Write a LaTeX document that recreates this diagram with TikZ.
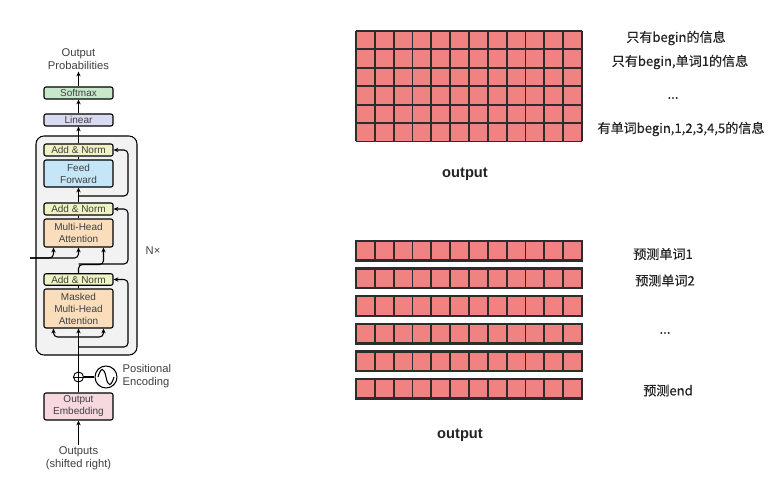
\documentclass[tikz,border=0pt]{standalone}
\usepackage{fontspec}
\setmainfont{Liberation Sans}
\newfontfamily\cjk[FakeBold=0.4]{Noto Sans CJK SC}
\usetikzlibrary{arrows.meta,calc}

\definecolor{cellred}{RGB}{240,130,130}
\definecolor{celldark}{RGB}{45,45,45}
\definecolor{txtgray}{RGB}{64,64,64}
\definecolor{cjkgray}{RGB}{35,35,35}
\definecolor{outergray}{RGB}{242,242,242}
\definecolor{smgreen}{RGB}{200,232,204}
\definecolor{linblue}{RGB}{218,218,240}
\definecolor{anyellow}{RGB}{238,242,196}
\definecolor{ffblue}{RGB}{196,230,246}
\definecolor{mhaorange}{RGB}{250,222,188}
\definecolor{embpink}{RGB}{246,216,222}

\begin{document}
\begin{tikzpicture}[x=0.75pt,y=0.75pt,yscale=-1,xscale=1,
    block/.style={draw, line width=0.8pt, rounded corners=1.5pt, minimum width=51.75pt, inner sep=0pt, align=center, font=\fontsize{7.5}{9}\selectfont, text=txtgray},
    arr/.style={-{Stealth[length=3.6pt,width=3.2pt]}, line width=0.8pt},
    lbl/.style={align=center, inner sep=1pt, font=\fontsize{8.4}{9.8}\selectfont, text=txtgray},
    cjklbl/.style={inner sep=1pt, font={\cjk\fontsize{9.8}{11}\selectfont}, text=cjkgray},
    outlbl/.style={inner sep=1pt, font={\bfseries\fontsize{11}{13}\selectfont}, text=cjkgray},
    gridline/.style={draw=celldark, line width=1.4pt}]
\useasboundingbox (0,0) rectangle (772,492);
\fill[white] (0,0) rectangle (772,492);

% decoder stack
\draw[fill=outergray, line width=0.8pt, rounded corners=6pt] (36,136) rectangle (137,355);

\node[block, fill=smgreen, minimum height=9pt] (softmax) at (78.5,93) {Softmax};
\node[block, fill=linblue, minimum height=9pt] (linear) at (78.5,120) {Linear};
\node[block, fill=anyellow, minimum height=9pt] (an1) at (78.5,150) {Add \& Norm};
\node[block, fill=ffblue, minimum height=20.25pt] (ff) at (78.5,173.5) {Feed\\Forward};
\node[block, fill=anyellow, minimum height=9pt] (an2) at (78.5,209) {Add \& Norm};
\node[block, fill=mhaorange, minimum height=21pt] (mha) at (78.5,233) {Multi-Head\\Attention};
\node[block, fill=anyellow, minimum height=8.6pt] (an3) at (78.5,279.5) {Add \& Norm};
\node[block, fill=mhaorange, minimum height=29.25pt] (mmha) at (78.5,308.5) {Masked\\Multi-Head\\Attention};
\node[block, fill=embpink, minimum height=20.25pt] (emb) at (78.5,406.5) {Output\\Embedding};

\node[draw, circle, minimum size=7.5pt, inner sep=0pt, line width=0.7pt] (plus) at (78.5,377) {};
\draw[line width=0.7pt] (plus.north) -- (plus.south) (plus.west) -- (plus.east);
\node[draw, circle, minimum size=16.5pt, inner sep=0pt, line width=0.8pt] (pe) at (106,377) {};
\draw[line width=0.8pt] (98,377) .. controls (101,367) and (104,367) .. (106,377) .. controls (108,387) and (111,387) .. (114,377);

% labels
\node[lbl] (prob) at (78.5,59.5) {Output\\Probabilities};
\node[lbl] (outs) at (78.5,458) {Outputs\\(shifted right)};
\node[lbl, anchor=west, align=left] (posenc) at (121,376.5) {Positional\\Encoding};
\node[lbl] (nx) at (153,251) {N×};

% connectors
\coordinate (rail) at (128,0);
\coordinate (res1) at (78.5,196);
\coordinate (res2) at (78.5,264);
\coordinate (res3) at (78.5,347);
\coordinate (fork) at (78.5,337);
\coordinate (enc) at (30,258);

\draw[arr] (softmax.north) -- (prob.south);
\draw[arr] (linear.north) -- (softmax.south);
\draw[arr] (an1.north) -- (linear.south);
\draw[line width=0.8pt] (ff.north) -- (an1.south);
\draw[arr] (an2.north) -- (ff.south);
\draw[line width=0.8pt] (mha.north) -- (an2.south);
\draw[line width=0.8pt] (mmha.north) -- (an3.south);
\draw[arr] (outs.north) -- (emb.south);
\draw[line width=0.8pt] (emb.north) -- (plus.south);
\draw[line width=0.8pt] (plus.east) -- (pe.west);
\draw[arr] (plus.north) -- (mmha.south);

\draw[arr, rounded corners=3pt] (res1) -| (rail |- an1.east) -- (an1.east);
\draw[arr, rounded corners=3pt] (res2) -| (rail |- an2.east) -- (an2.east);
\draw[arr, rounded corners=3pt] (res3) -| (rail |- an3.east) -- (an3.east);
\draw[arr, rounded corners=3pt] (an3.north) |- ($(mha.south)+(25,17)$) -- ($(mha.south)+(25,0)$);
\draw[arr, rounded corners=3pt] (enc) -| ($(mha.south)+(-25,0)$);
\draw[arr, rounded corners=3pt] (enc) -| (mha.south);
\draw[arr, rounded corners=3pt] (fork) -| ($(mmha.south)+(-25,0)$);
\draw[arr, rounded corners=3pt] (fork) -| ($(mmha.south)+(25,0)$);

% output matrix
\fill[cellred] (356,31) rectangle (582,141.5);
\foreach \c in {0,...,12}
  \draw[gridline] ({356+226/12*\c},31) -- ({356+226/12*\c},141.5);
\foreach \r in {0,...,6}
  \draw[gridline] (356,{31+110.5/6*\r}) -- (582,{31+110.5/6*\r});

% predicted rows
\foreach \r in {0,...,5}{
  \fill[cellred] (356,{241+27.6*\r}) rectangle (582,{260.5+27.6*\r});
  \foreach \c in {1,...,11}
    \draw[gridline] ({356+226/12*\c},{241+27.6*\r}) -- ++(0,19.5);
  \draw[draw=celldark, line width=1.8pt] (356,{241+27.6*\r}) rectangle (582,{260.5+27.6*\r});
}

% texts
\node[cjklbl] (info1) at (676,38) {只有begin的信息};
\node[cjklbl] (info2) at (680,62) {只有begin,单词1的信息};
\node[cjklbl] (info3) at (673,98) {...};
\node[cjklbl] (info4) at (681,129) {有单词begin,1,2,3,4,5的信息};
\node[outlbl] (out1) at (465,174) {output};

\node[cjklbl] (pred1) at (663,254) {预测单词1};
\node[cjklbl] (pred2) at (665,280.5) {预测单词2};
\node[cjklbl] (pred3) at (665,333) {...};
\node[cjklbl] (pred4) at (668,390.5) {预测end};
\node[outlbl] (out2) at (460,435) {output};
\end{tikzpicture}
\end{document}
